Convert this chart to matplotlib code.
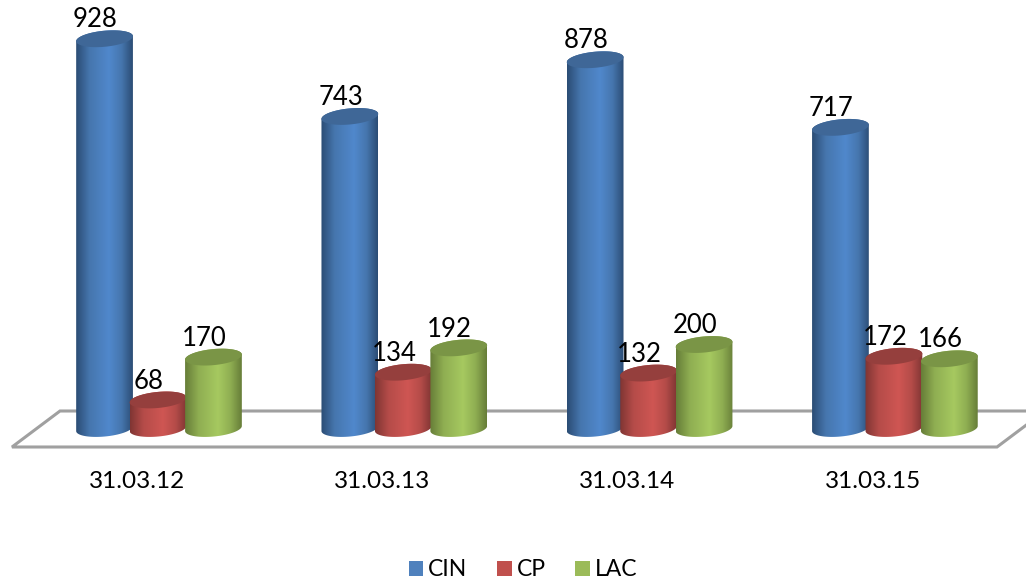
import matplotlib
matplotlib.use("Agg")
import matplotlib.pyplot as plt
from matplotlib.colors import LinearSegmentedColormap
from matplotlib.patches import Patch, Polygon
from matplotlib.path import Path
from matplotlib.transforms import Affine2D
import numpy as np

dates = ["31.03.12", "31.03.13", "31.03.14", "31.03.15"]
cin = [928, 743, 878, 717]
cp = [68, 134, 132, 172]
lac = [170, 192, 200, 166]

names = ["CIN", "CP", "LAC"]
colors = ["#4676AE", "#B54C49", "#8FAE52"]
edges = ["#2B4C74", "#7F3533", "#667D38"]
lights = ["#5088CC", "#CF5653", "#A6C960"]
tops = ["#3F6797", "#953F3D", "#7A9546"]

W, H = 1026, 580
x_px = 245.3  # pixels for one group
y_px = 0.42  # pixels for one unit
x0, y0 = 159, 428.5
half_w, half_h = 28.5, 8
tilt = np.radians(5.5)

plt.rcParams["font.family"] = ["Lato", "DejaVu Sans"]

fig = plt.figure(figsize=(W / 100, H / 100), dpi=100)
ax = fig.add_axes([0, 0, 1, 1])
xlim = (-x0 / x_px, (W - x0) / x_px)
ylim = (-(H - y0) / y_px, y0 / y_px)


def ellipse(cx, cy, t):
    # works in data units, shape is worked out in pixels
    ex = half_w * np.cos(t) * np.cos(tilt) - half_h * np.sin(t) * np.sin(tilt)
    ey = half_w * np.cos(t) * np.sin(tilt) + half_h * np.sin(t) * np.cos(tilt)
    return np.column_stack([cx + ex / x_px, cy + ey / y_px])


def cylinder(x, value, k, z):
    cmap = LinearSegmentedColormap.from_list(
        names[k],
        [(0, edges[k]), (0.24, colors[k]), (0.58, lights[k]), (0.8, colors[k]), (1, edges[k])],
    )
    low = ellipse(x, 0, np.linspace(np.pi, 2 * np.pi, 60))
    high = ellipse(x, value, np.linspace(0, np.pi, 60))
    body = Path(np.vstack([low, high, low[:1]]), closed=True)
    grad = np.linspace(0, 1, 256).reshape(1, -1)
    extent = [x - half_w / x_px, x + half_w / x_px, -60, value + 60]
    im = ax.imshow(grad, cmap=cmap, extent=extent, aspect="auto", zorder=z, origin="lower")
    im.set_clip_path(body, transform=ax.transData)
    cap = ellipse(x, value, np.linspace(0, 2 * np.pi, 120))
    ax.add_patch(Polygon(cap, closed=True, facecolor=tops[k], edgecolor="none", zorder=z + 0.1))


# floor of the chart, placed in figure pixels
px = Affine2D().scale(1, -1).translate(0, H)
floor = np.array([[12, 447], [997, 447], [1045, 411], [60, 411]])
ax.add_patch(Polygon(floor, closed=True, facecolor="white", edgecolor="#A0A0A0",
                     linewidth=2.2, transform=px, zorder=1, joinstyle="miter"))

offsets = [-0.222, -0.004, 0.222]
for i in range(len(dates)):
    for k, values in enumerate([cin, cp, lac]):
        x = i + offsets[k]
        cylinder(x, values[i], k, 2 + k)
        ax.text(x - 0.037, values[i] + 15, str(values[i]), ha="center", va="bottom",
                fontsize=18.5, color="black", zorder=10)
    ax.text(i - 0.09, -127, dates[i], ha="center", va="center", fontsize=17.5, color="black")

ax.set_xlim(xlim)
ax.set_ylim(ylim)
ax.axis("off")

handles = [Patch(facecolor=c, edgecolor="none") for c in ["#4F81BD", "#C0504D", "#9BBB59"]]
fig.legend(handles, names, loc="center", bbox_to_anchor=(523 / W, 1 - 570 / H), ncol=3,
           frameon=False, fontsize=16.5, handlelength=0.65, handleheight=0.65,
           handletextpad=0.2, columnspacing=1.3, borderpad=0)

fig.savefig("out.png", dpi=100)
